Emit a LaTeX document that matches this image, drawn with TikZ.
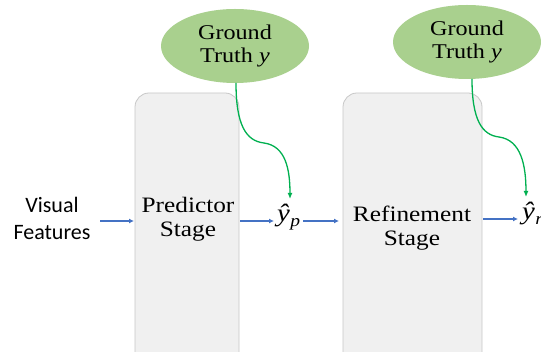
\documentclass[tikz,border=0pt]{standalone}
\usepackage{fontspec}
\usetikzlibrary{arrows.meta,shapes.geometric}
\newfontfamily\camfont[FakeStretch=1.15]{Liberation Serif}
\newfontfamily\calfont{Carlito}
\definecolor{gtgreen}{HTML}{A9D08E}
\definecolor{arrgreen}{HTML}{00B050}
\definecolor{arrblue}{HTML}{4472C4}
\definecolor{boxfill}{HTML}{F0F0F0}
\definecolor{boxline}{HTML}{C8C8C8}
\newcommand{\predlbl}[1]{{\camfont\fontsize{25}{27}\selectfont\itshape ŷ\kern0.5pt\raisebox{-5pt}{\fontsize{17}{19}\selectfont #1}}}
\tikzset{
  stagebox/.style={draw=boxline, fill=boxfill, rounded corners=14pt, line width=0.8pt},
  gt/.style={ellipse, fill=gtgreen, minimum width=148pt, minimum height=74pt, inner sep=0pt, align=center, font=\camfont\fontsize{21}{23}\selectfont},
  stagetext/.style={align=center, font=\camfont\fontsize{22}{24}\selectfont},
  mathlbl/.style={inner sep=0pt},
  bluearr/.style={draw=arrblue, line width=1.3pt, -{Latex[length=5pt,width=5pt]}},
  greenarr/.style={draw=arrgreen, line width=1.3pt, -{Latex[length=6pt,width=5pt]}},
}
\begin{document}
\begin{tikzpicture}[x=1pt,y=-1pt]
\useasboundingbox (0,0) rectangle (541,352);
\fill[white] (0,0) rectangle (541,352);
% boxes
\draw[stagebox] (135,93) rectangle (239,370);
\draw[stagebox] (343,93) rectangle (482,370);
\node[stagetext] (pred) at (188,219) {Predictor\\Stage};
\node[stagetext] (ref) at (412,228) {Refinement\\Stage};
% ellipses
\node[gt] (gt1) at (235,46) {Ground\\Truth \textit{y}};
\node[gt] (gt2) at (467,42) {Ground\\Truth \textit{y}};
% texts
\node[align=center, font=\calfont\fontsize{22}{27}\selectfont] (vf) at (52,218) {Visual\\Features};
\node[mathlbl, anchor=base west] (yp) at (277,222) {\predlbl{p}};
\node[mathlbl, anchor=base west] (yr) at (522,220) {\predlbl{r}};
% coordinates
\coordinate (a1s) at (100,221);
\coordinate (a1e) at (134,221);
\coordinate (a2s) at (240,221);
\coordinate (a2e) at (274,221);
\coordinate (a3s) at (303,221);
\coordinate (a3e) at (339,221);
\coordinate (a4s) at (483,219);
\coordinate (a4e) at (518,219);
\draw[bluearr] (a1s) -- (a1e);
\draw[bluearr] (a2s) -- (a2e);
\draw[bluearr] (a3s) -- (a3e);
\draw[bluearr] (a4s) -- (a4e);
% green curves
\coordinate (g1s) at (236,83);
\coordinate (g1m) at (264,143);
\coordinate (g1e) at (290,199);
\coordinate (g2s) at (472,79);
\coordinate (g2m) at (499,137);
\coordinate (g2e) at (526,197);
\draw[greenarr] (g1s) .. controls (236,125) and (246,141) .. (g1m) .. controls (286,146) and (290,170) .. (g1e);
\draw[greenarr] (g2s) .. controls (472,120) and (482,135) .. (g2m) .. controls (521,140) and (526,165) .. (g2e);
\end{tikzpicture}
\end{document}
